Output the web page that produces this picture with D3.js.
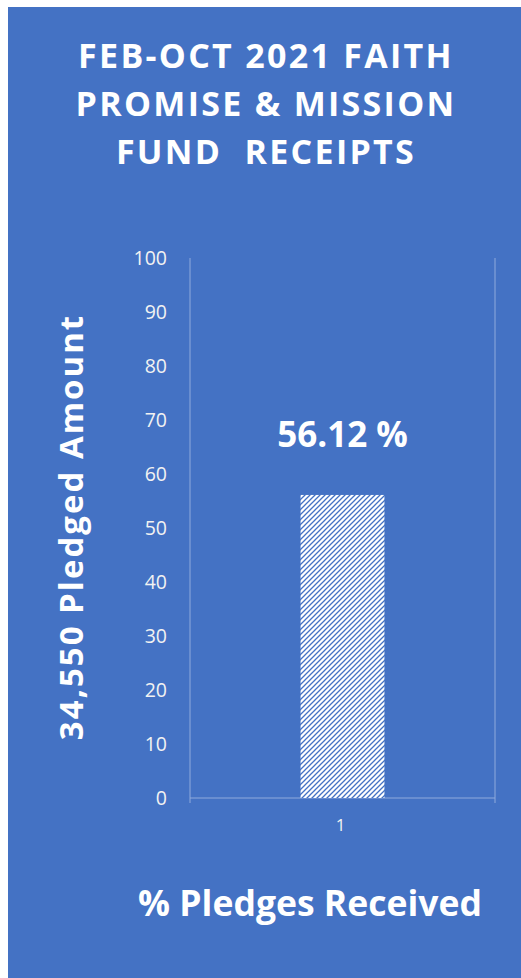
<!DOCTYPE html>
<html>
<head>
<meta charset="utf-8">
<script src="https://cdn.jsdelivr.net/npm/d3@7"></script>
<style>
  html, body { margin: 0; padding: 0; background: #fff; }
  svg { display: block; }
</style>
</head>
<body>
<script>
  // chart data
  const categories = ["1"]
  const values = [56.12]
  const yTicks = [0, 10, 20, 30, 40, 50, 60, 70, 80, 90, 100]
  const titleLines = ["FEB-OCT 2021 FAITH", "PROMISE & MISSION", "FUND  RECEIPTS"]
  const yTitle = "34,550 Pledged Amount"
  const xTitle = "% Pledges Received"

  const W = 521, H = 978
  const bg = "#4472C4"
  const font = "'Open Sans', 'Noto Sans', sans-serif"

  const svg = d3.select("body").append("svg")
      .attr("width", W)
      .attr("height", H)

  const defs = svg.append("defs")
  const pat = defs.append("pattern")
      .attr("id", "hatch")
      .attr("patternUnits", "userSpaceOnUse")
      .attr("width", 5)
      .attr("height", 5)
  pat.append("rect").attr("width", 5).attr("height", 5).attr("fill", "#fff")
  pat.append("path")
      .attr("d", "M-1,1 l2,-2 M0,5 l5,-5 M4,6 l2,-2")
      .attr("stroke", bg)
      .attr("stroke-width", 1.3)

  // panel
  svg.append("rect")
      .attr("x", 8).attr("y", 7)
      .attr("width", W - 8).attr("height", H - 7)
      .attr("fill", bg)

  // title
  svg.append("g").selectAll("text")
    .data(titleLines)
    .enter().append("text")
      .attr("x", 266)
      .attr("y", (d, i) => 68 + i * 48)
      .attr("text-anchor", "middle")
      .attr("font-family", font)
      .attr("font-weight", "bold")
      .attr("font-size", 34)
      .attr("letter-spacing", 2.3)
      .attr("fill", "#fff")
      .attr("xml:space", "preserve")
      .style("white-space", "pre")
      .text(d => d)

  const plot = { left: 190, right: 495, top: 258, bottom: 798 }

  const x = d3.scaleBand()
      .domain(categories)
      .range([plot.left, plot.right])
      .paddingInner(0.725)
      .paddingOuter(0.3625)

  const y = d3.scaleLinear()
      .domain([0, 100])
      .range([plot.bottom, plot.top])

  const axisColor = "#8FAADC"

  // side lines
  svg.append("g").selectAll("line")
    .data([plot.left, plot.right])
    .enter().append("line")
      .attr("x1", d => d).attr("x2", d => d)
      .attr("y1", plot.top).attr("y2", plot.bottom + 5)
      .attr("stroke", axisColor)
      .attr("stroke-width", 1)

  // x axis line
  svg.append("line")
      .attr("x1", plot.left).attr("x2", plot.right)
      .attr("y1", plot.bottom).attr("y2", plot.bottom)
      .attr("stroke", axisColor)
      .attr("stroke-width", 1)

  // y tick labels
  svg.append("g").selectAll("text")
    .data(yTicks)
    .enter().append("text")
      .attr("x", 167)
      .attr("y", d => y(d))
      .attr("dy", "0.36em")
      .attr("text-anchor", "end")
      .attr("font-family", font)
      .attr("font-size", 19.5)
      .attr("fill", "#f2f2f2")
      .text(d => d)

  // bar
  svg.append("g").selectAll("rect")
    .data(values)
    .enter().append("rect")
      .attr("x", (d, i) => x(categories[i]))
      .attr("y", d => y(d))
      .attr("width", x.bandwidth())
      .attr("height", d => y(0) - y(d))
      .attr("fill", "url(#hatch)")

  // bar label
  svg.append("g").selectAll("text")
    .data(values)
    .enter().append("text")
      .attr("x", (d, i) => x(categories[i]) + x.bandwidth() / 2)
      .attr("y", 447)
      .attr("text-anchor", "middle")
      .attr("font-family", font)
      .attr("font-weight", "bold")
      .attr("font-size", 35)
      .attr("fill", "#fff")
      .text(d => d.toFixed(2) + " %")

  // x tick label
  svg.append("g").selectAll("text")
    .data(categories)
    .enter().append("text")
      .attr("x", d => x(d) + x.bandwidth() / 2 - 2)
      .attr("y", 831)
      .attr("text-anchor", "middle")
      .attr("font-family", font)
      .attr("font-size", 17)
      .attr("fill", "#f2f2f2")
      .text(d => d)

  // y title
  svg.append("text")
      .attr("transform", "translate(83,527) rotate(-90)")
      .attr("text-anchor", "middle")
      .attr("font-family", font)
      .attr("font-weight", "bold")
      .attr("font-size", 33)
      .attr("letter-spacing", 2)
      .attr("fill", "#fff")
      .text(yTitle)

  // x title
  svg.append("text")
      .attr("x", 310)
      .attr("y", 916)
      .attr("text-anchor", "middle")
      .attr("font-family", font)
      .attr("font-weight", "bold")
      .attr("font-size", 35.5)
      .attr("fill", "#fff")
      .text(xTitle)
</script>
</body>
</html>
